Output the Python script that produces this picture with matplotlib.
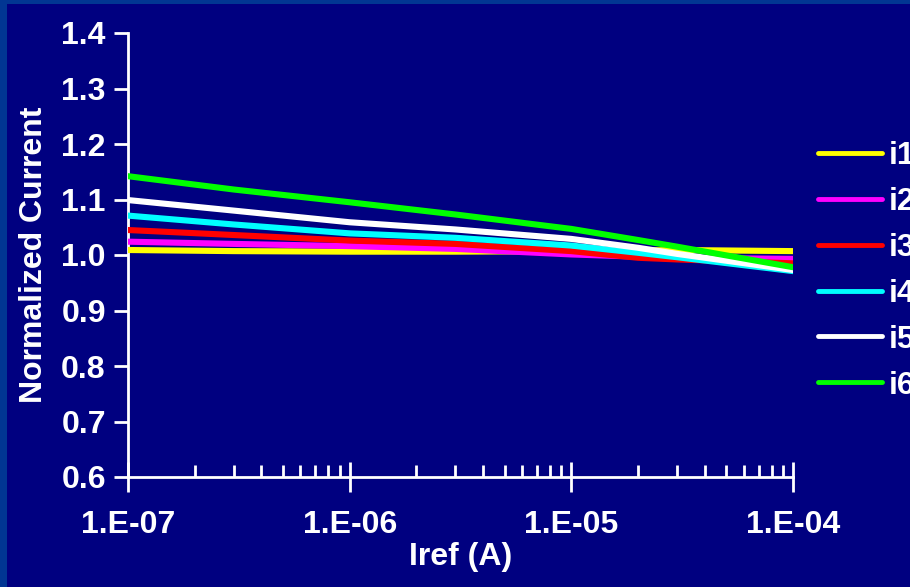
import numpy as np
import matplotlib.pyplot as plt
from matplotlib.ticker import FixedLocator, LogLocator, NullFormatter, FixedFormatter

# Data (normalized current vs reference current)
iref = [1e-7, 3e-7, 1e-6, 3e-6, 1e-5, 2e-5, 3e-5, 1e-4]
i1 = [1.009, 1.007, 1.006, 1.006, 1.007, 1.008, 1.009, 1.007]
i2 = [1.024, 1.020, 1.016, 1.011, 1.001, 0.997, 0.995, 0.993]
i3 = [1.045, 1.036, 1.026, 1.020, 1.007, 0.995, 0.992, 0.985]
i4 = [1.071, 1.055, 1.039, 1.031, 1.017, 1.004, 0.996, 0.971]
i5 = [1.099, 1.080, 1.059, 1.046, 1.029, 1.013, 1.002, 0.973]
i6 = [1.142, 1.118, 1.095, 1.073, 1.047, 1.027, 1.015, 0.978]

labels = ['i1', 'i2', 'i3', 'i4', 'i5', 'i6']
colors = ['#FFFF00', '#FF00FF', '#FF0000', '#00FFFF', '#FFFFFF', '#00FF00']
x_ticks = [1e-7, 1e-6, 1e-5, 1e-4]
x_ticklabels = ['1.E-07', '1.E-06', '1.E-05', '1.E-04']
y_ticks = [0.6, 0.7, 0.8, 0.9, 1.0, 1.1, 1.2, 1.3, 1.4]

plt.rcParams['font.family'] = ['Liberation Sans', 'DejaVu Sans']
plt.rcParams['font.weight'] = 'bold'

bg = '#000080'
border = '#013693'
fig = plt.figure(figsize=(9.1, 5.87), dpi=100, facecolor=bg)
# lighter blue slide border on the left and top edges
fig.patches.append(plt.Rectangle((0, 0), 7 / 910, 1, transform=fig.transFigure,
                                 facecolor=border, edgecolor='none'))
fig.patches.append(plt.Rectangle((0, 1 - 4 / 587), 1, 4 / 587, transform=fig.transFigure,
                                 facecolor=border, edgecolor='none'))

ax = fig.add_axes([128 / 910, 1 - 477 / 587, (793 - 128) / 910, (477 - 33) / 587])
ax.set_facecolor(bg)

for k, (ys, lab, c) in enumerate(zip([i1, i2, i3, i4, i5, i6], labels, colors)):
    ax.plot(iref, ys, color=c, lw=4.4, label=lab, solid_capstyle='round', zorder=3 + k)

ax.set_xscale('log')
ax.set_xlim(1e-7, 1e-4)
ax.set_ylim(0.6, 1.4)
ax.xaxis.set_major_locator(FixedLocator(x_ticks))
ax.xaxis.set_major_formatter(FixedFormatter(x_ticklabels))
ax.xaxis.set_minor_locator(LogLocator(base=10, subs=np.arange(2, 10), numticks=20))
ax.xaxis.set_minor_formatter(NullFormatter())
ax.set_yticks(y_ticks)
ax.set_yticklabels([f'{v:.1f}' for v in y_ticks])

for s in ['top', 'right']:
    ax.spines[s].set_visible(False)
for s in ['left', 'bottom']:
    ax.spines[s].set_color('white')
    ax.spines[s].set_linewidth(2)

ax.tick_params(axis='x', which='major', direction='inout', length=22, width=2,
               colors='white', labelsize=23, pad=13)
ax.tick_params(axis='x', which='minor', direction='in', length=9, width=2, colors='white')
ax.tick_params(axis='y', which='major', direction='out', length=10, width=2,
               colors='white', labelsize=23, pad=6)

ax.set_xlabel('Iref (A)', color='white', fontsize=23, fontweight='bold', labelpad=1)
ax.set_ylabel('Normalized Current', color='white', fontsize=23, fontweight='bold', labelpad=9)

leg = fig.legend(loc='center left', bbox_to_anchor=(818 / 910, 1 - 270.7 / 587),
                 frameon=False, fontsize=23, handlelength=2.0, handletextpad=0.22,
                 labelspacing=0.5, borderpad=0, borderaxespad=0)
for t in leg.get_texts():
    t.set_color('white')
    t.set_fontweight('bold')
for h in leg.legend_handles:
    h.set_linewidth(3.5)

fig.savefig('out.png', dpi=100, facecolor=fig.get_facecolor())
